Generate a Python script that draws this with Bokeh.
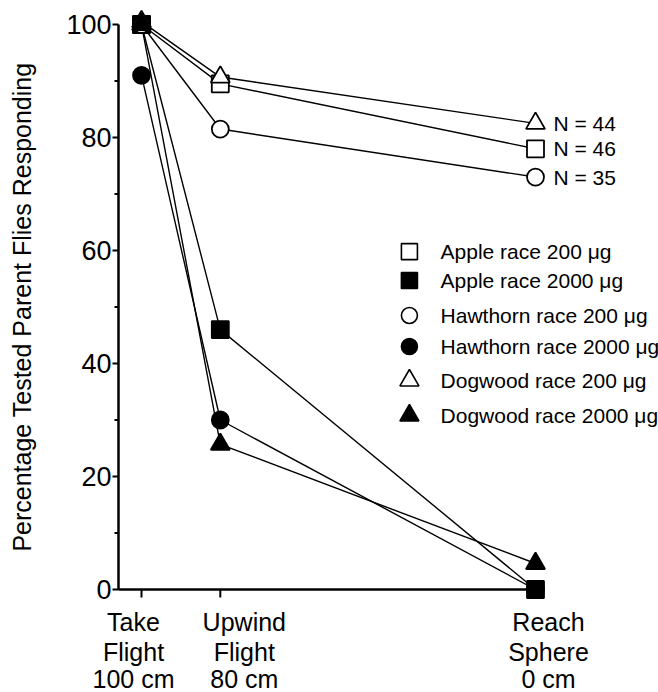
import math
from bokeh.plotting import figure
from bokeh.models import Range1d, ColumnDataSource
from bokeh.embed import file_html
from bokeh.resources import INLINE
from bokeh.core.properties import value

# ---- data ----
stage_distance = [100, 80, 0]           # distance from sphere (cm)
stage_labels = ["Take\nFlight\n100 cm", "Upwind\nFlight\n80 cm", "Reach\nSphere\n0 cm"]

apple_200 = [100, 89.5, 78]
apple_2000 = [100, 46, 0]
hawthorn_200 = [100, 81.5, 73]
hawthorn_2000 = [91, 30, 0]
dogwood_200 = [100.5, 90.7, 82.5]
dogwood_2000 = [100, 25.7, 4.6]

series_labels = ["Apple race 200 \u03bcg", "Apple race 2000 \u03bcg",
                 "Hawthorn race 200 \u03bcg", "Hawthorn race 2000 \u03bcg",
                 "Dogwood race 200 \u03bcg", "Dogwood race 2000 \u03bcg"]
n_labels = ["N = 44", "N = 46", "N = 35"]
n_label_values = [dogwood_200[-1], apple_200[-1], hawthorn_200[-1]]

y_ticks = [0, 20, 40, 60, 80, 100]
y_tick_labels = ["0", "20", "40", "60", "80", "100"]
y_minor = [10, 30, 50, 70, 90]
y_title = "Percentage Tested Parent Flies Responding"

FONT = "Liberation Sans"
X_LEFT = 105.84      # where the y axis stands (data units of distance)
Y_LO, Y_HI = 0, 100

p = figure(width=658, height=692, output_backend="svg", toolbar_location=None,
           x_range=Range1d(135.79, -31.22), y_range=Range1d(-18.23, 104.25),
           x_axis_location=None, y_axis_location=None,
           min_border_left=0, min_border_right=0, min_border_top=0,
           min_border_bottom=0)
p.outline_line_color = None
p.grid.visible = False
p.background_fill_color = "white"
p.border_fill_color = "white"

# ---- axes ----
# x axis line and ticks (at y = 0)
p.segment(x0=[X_LEFT], y0=[Y_LO], x1=[stage_distance[-1]], y1=[Y_LO],
          line_color="black", line_width=2.5)
p.ray(x=stage_distance, y=[Y_LO] * 3, length=8, length_units="screen",
      angle=-math.pi / 2, line_color="black", line_width=2)
label_lines = [lab.split("\n") for lab in stage_labels]
label_shift = [-8, 24, 13]
for i, off in enumerate([32, 62, 89]):
    p.text(stage_distance, [Y_LO] * 3, text=[ll[i] for ll in label_lines],
           x_offset=label_shift, y_offset=off, text_align="center",
           text_baseline="middle", text_font=value(FONT),
           text_font_size="25px", text_color="black")

# y axis line, ticks, tick labels and title
p.segment(x0=[X_LEFT], y0=[Y_LO], x1=[X_LEFT], y1=[Y_HI],
          line_color="black", line_width=2.5)
p.ray(x=[X_LEFT] * len(y_ticks), y=y_ticks, length=6, length_units="screen",
      angle=math.pi, line_color="black", line_width=2)
p.ray(x=[X_LEFT] * len(y_minor), y=y_minor, length=4, length_units="screen",
      angle=math.pi, line_color="black", line_width=2)
p.text([X_LEFT] * len(y_ticks), y_ticks, text=y_tick_labels, x_offset=-7,
       text_align="right", text_baseline="middle",
       text_font=value(FONT), text_font_size="27px", text_color="black")
p.text([130.3], [(Y_LO + Y_HI) / 2], text=[y_title], angle=math.pi / 2,
       text_align="center", text_baseline="middle",
       text_font=value(FONT), text_font_size="25px", text_color="black")

# ---- series ----
series = [
    (apple_200, "square", "white"),
    (apple_2000, "square", "black"),
    (hawthorn_200, "circle", "white"),
    (hawthorn_2000, "circle", "black"),
    (dogwood_200, "triangle", "white"),
    (dogwood_2000, "triangle", "black"),
]
for vals, m, fc in series:
    p.line(stage_distance, vals, line_color="black", line_width=1.4)
for vals, m, fc in series:
    p.scatter(stage_distance, vals, marker=m, size=17 if m != "triangle" else 19,
              fill_color=fc, line_color="black", line_width=1.8)

# ---- legend (manual) ----
leg_x = 32.0
leg_text_x = 24.1
leg_rows = [59.8, 54.7, 48.5, 43.0, 37.0, 30.8]
leg_src = ColumnDataSource(dict(
    x=[leg_x] * 6, y=leg_rows, tx=[leg_text_x] * 6,
    marker=[s[1] for s in series], fill=[s[2] for s in series],
    size=[16, 16, 16, 16, 19, 19], label=series_labels))
p.scatter("x", "y", marker="marker", size="size", fill_color="fill",
          line_color="black", line_width=1.6, source=leg_src)
p.text("tx", "y", text="label", source=leg_src, text_font=value(FONT),
       text_font_size="21px", text_baseline="middle", text_color="black")

# ---- N labels ----
p.text([stage_distance[-1]] * 3, n_label_values, text=n_labels, x_offset=18,
       text_font=value(FONT), text_font_size="21px", text_baseline="middle",
       text_color="black")

open("out.html", "w").write(file_html(p, INLINE))
